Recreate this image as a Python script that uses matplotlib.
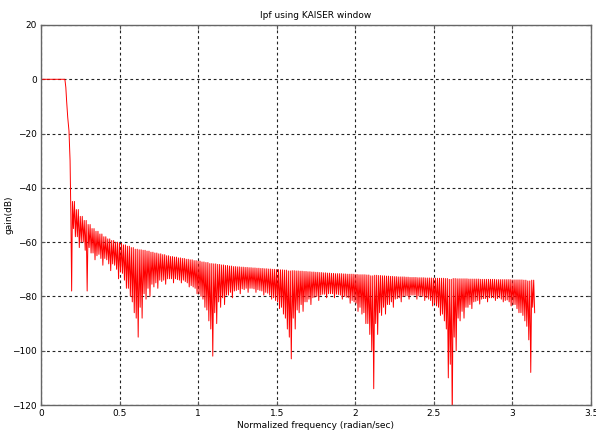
import numpy as np
import matplotlib
matplotlib.use('Agg')
import matplotlib.pyplot as plt

# passband and transition (rad, dB)
pass_freq = [0.0, 0.152, 0.158, 0.163, 0.170, 0.178, 0.185, 0.190, 0.195]
pass_gain = [0.0, 0.0, -3.0, -8.0, -14.0, -19.0, -30.0, -50.0, -78.0]

# stopband ripple, one entry per ripple, 0.20 rad up to pi
peak_gain = [
    # 0.20 - 0.60
    -45.0, -48.0, -50.5, -52.0, -53.5, -55.0, -56.0, -57.0, -58.0, -58.8,
    -59.4, -60.0, -60.4, -61.0, -61.5, -62.0, -62.6,
    # 0.63 - 1.08
    -62.8, -63.0, -63.3, -63.7, -64.0, -64.3, -64.6, -65.0, -65.3, -65.5,
    -65.8, -66.0, -66.3, -66.5, -66.8, -67.0, -67.3, -67.5, -67.9,
    # 1.10 - 1.58
    -68.0, -68.2, -68.4, -68.6, -68.8, -69.0, -69.1, -69.2, -69.3, -69.4,
    -69.5, -69.6, -69.7, -69.8, -69.9, -70.0, -70.1, -70.2, -70.3, -70.6,
    # 1.60 - 2.10
    -70.5, -70.6, -70.7, -70.8, -70.9, -71.0, -71.1, -71.2, -71.3, -71.4,
    -71.5, -71.6, -71.6, -71.7, -71.8, -71.8, -71.9, -72.0, -72.0, -72.1,
    -72.4,
    # 2.13 - 2.60
    -72.2, -72.3, -72.4, -72.5, -72.6, -72.7, -72.8, -72.8, -72.9, -73.0,
    -73.0, -73.1, -73.1, -73.2, -73.2, -73.3, -73.3, -73.3, -73.4, -73.7,
    # 2.63 - 3.13
    -73.4, -73.5, -73.5, -73.5, -73.6, -73.6, -73.6, -73.7, -73.7, -73.7,
    -73.7, -73.8, -73.8, -73.8, -73.8, -73.9, -73.9, -73.9, -74.0, -74.3,
    -74.0,
]
# shallow minima between the ripple peaks
shallow_gain = [
    -55.0, -58.0, -60.0, -63.0, -62.0, -64.0, -65.0, -66.0, -66.0, -68.0,
    -68.0, -70.0, -71.0, -74.0, -77.0, -82.0, -88.0,
    -84.0, -79.0, -77.0, -75.5, -75.0, -74.0, -74.0, -73.5, -73.5, -73.5,
    -74.0, -74.0, -75.0, -76.0, -77.0, -79.0, -81.0, -85.0, -92.0,
    -86.0, -82.0, -80.5, -79.5, -78.5, -78.0, -77.5, -77.2, -77.0, -77.0,
    -77.2, -77.5, -78.0, -78.5, -79.5, -80.5, -82.0, -84.0, -88.0, -95.0,
    -88.0, -85.0, -83.0, -82.0, -81.0, -80.5, -80.0, -79.5, -79.2, -79.0,
    -79.0, -79.2, -79.5, -80.0, -80.5, -81.5, -82.5, -84.0, -86.0, -90.0,
    -100.0,
    -90.0, -86.0, -84.0, -83.0, -82.0, -81.0, -80.5, -80.0, -79.8, -79.5,
    -79.5, -79.8, -80.0, -80.5, -81.5, -82.5, -84.0, -86.5, -92.0, -105.0,
    -95.0, -88.0, -85.5, -84.0, -83.0, -82.0, -81.5, -81.0, -80.8, -80.5,
    -80.5, -80.8, -81.0, -81.5, -82.0, -83.0, -84.5, -86.0, -89.0, -96.0,
    -84.0,
]
# deep minima (dark spikes, nulls at the ends of each lobe)
trough_gain = [
    -58.0, -62.0, -60.0, -78.0, -64.0, -66.5, -64.5, -68.5, -66.5, -70.5,
    -68.5, -73.5, -71.5, -77.0, -80.0, -86.0, -95.0,
    -88.0, -81.0, -80.0, -76.5, -77.0, -74.5, -75.5, -73.5, -75.0, -73.8,
    -75.0, -74.5, -76.5, -76.5, -79.0, -80.0, -84.0, -89.0, -102.0,
    -90.0, -84.0, -83.0, -79.5, -80.5, -77.8, -79.0, -77.5, -78.5, -77.0,
    -78.5, -77.8, -79.5, -78.8, -81.0, -81.5, -84.5, -86.5, -92.0, -103.0,
    -92.0, -86.0, -85.5, -82.0, -83.0, -80.3, -81.5, -79.2, -80.5, -79.0,
    -80.5, -79.3, -81.0, -80.3, -82.5, -82.0, -85.5, -86.5, -90.0, -94.0,
    -114.0,
    -94.0, -87.0, -86.5, -83.0, -84.0, -80.8, -82.0, -79.8, -81.0, -79.5,
    -81.0, -79.8, -81.5, -81.0, -83.5, -83.5, -87.0, -89.0, -110.0, -125.0,
    -100.0, -89.0, -88.0, -84.0, -84.5, -81.8, -82.8, -80.8, -82.0, -80.5,
    -81.5, -80.5, -82.0, -81.3, -83.5, -83.0, -86.0, -87.0, -91.0, -108.0,
    -86.0,
]

x_ticks = [0, 0.5, 1, 1.5, 2, 2.5, 3, 3.5]
x_labels = ['0', '0.5', '1', '1.5', '2', '2.5', '3', '3.5']
y_ticks = [20, 0, -20, -40, -60, -80, -100, -120]

# each ripple: peak, shallow dip, peak, deep dip on an even frequency grid
stop_gain = np.column_stack([peak_gain, shallow_gain, peak_gain, trough_gain]).ravel()
stop_freq = np.linspace(0.20, np.pi, len(stop_gain))

freq = np.concatenate([pass_freq, stop_freq])
gain = np.concatenate([pass_gain, stop_gain])

fig = plt.figure(figsize=(5.96, 4.34), dpi=100)
ax = fig.add_axes([0.0688, 0.0668, 0.9228, 0.8756])

ax.plot(freq, gain, color='red', linewidth=0.7)

ax.set_xlim(0, 3.5)
ax.set_ylim(-120, 20)
ax.set_xticks(x_ticks)
ax.set_xticklabels(x_labels)
ax.set_yticks(y_ticks)
ax.grid(True, color='#222222', linestyle=(0, (2.5, 2.5)), linewidth=0.8)
ax.tick_params(direction='in', length=3, labelsize=6.5, top=True, right=True,
               color='#555555', pad=3)
for s in ax.spines.values():
    s.set_color('#666666')
    s.set_linewidth(1.0)

ax.set_title('lpf using KAISER window', fontsize=6.5, pad=5)
ax.set_xlabel('Normalized frequency (radian/sec)', fontsize=6.5, labelpad=2)
ax.set_ylabel('gain(dB)', fontsize=6.5)
ax.yaxis.set_label_coords(-0.05, 0.5)

fig.savefig('out.png', dpi=100)
